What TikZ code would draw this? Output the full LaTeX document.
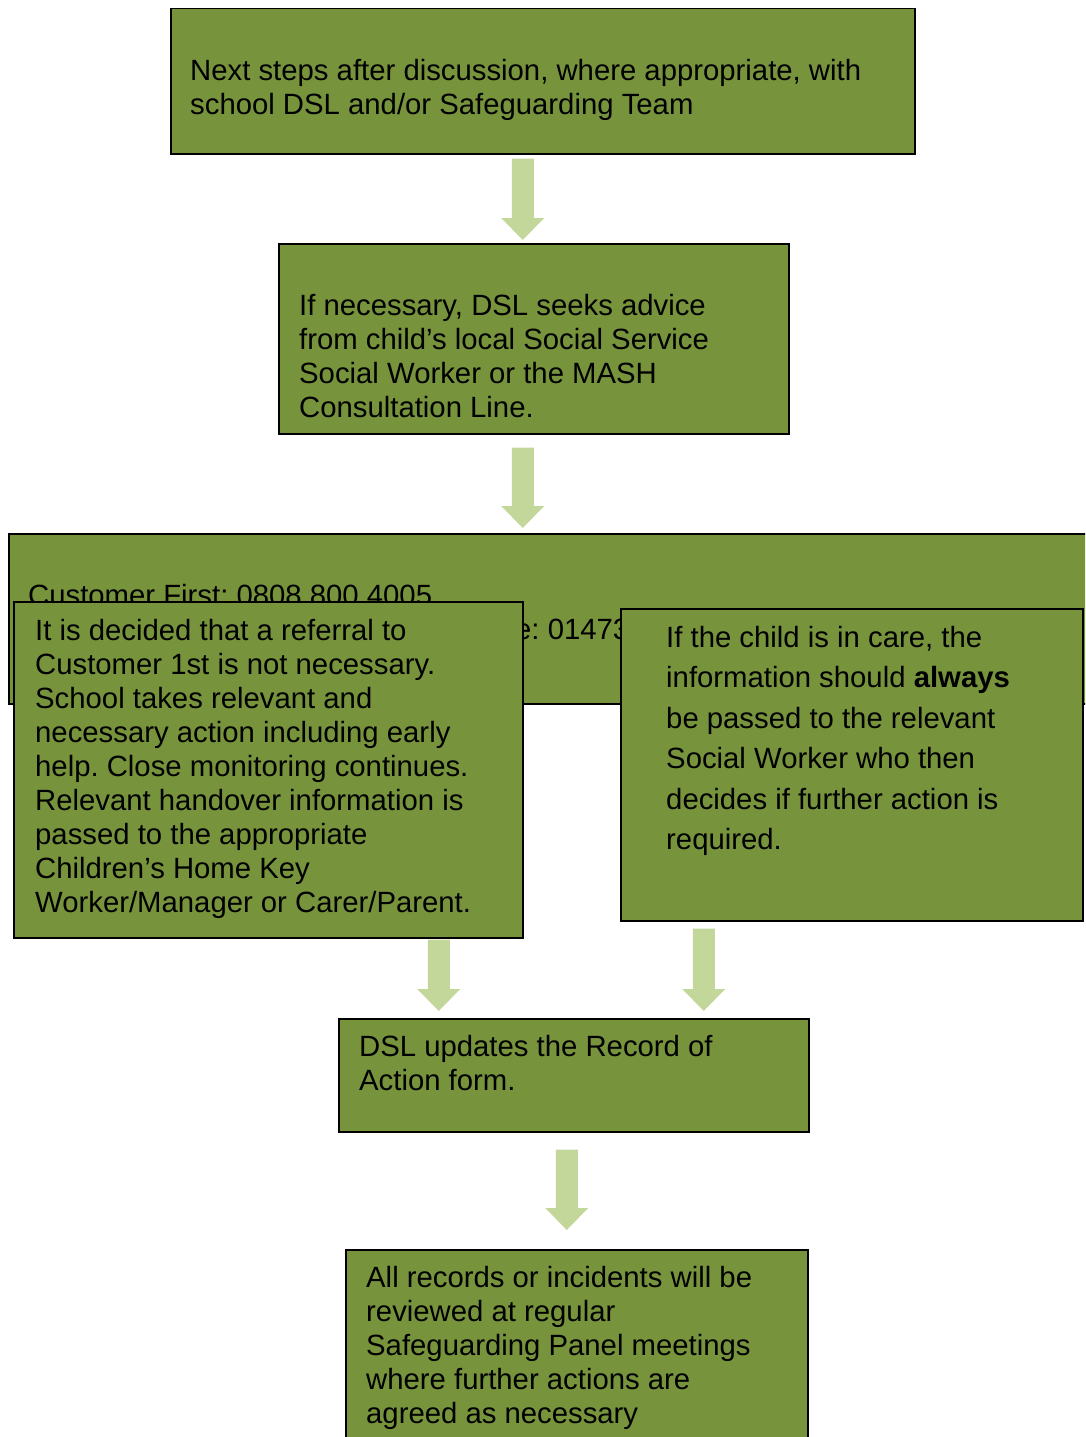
\documentclass[tikz,border=0pt]{standalone}
\usepackage{fontspec}
\setmainfont{Liberation Sans}
\usetikzlibrary{calc}
\frenchspacing
\definecolor{boxgreen}{RGB}{119,147,60}
\definecolor{arrowgreen}{RGB}{196,215,155}
\tikzset{
  stepbox/.style={draw=black, line width=1.5pt, fill=boxgreen, rectangle,
                  inner sep=0pt, anchor=north west},
  steptext/.style={anchor=north west, inner sep=0pt, align=left,
                   font=\fontsize{29.3}{34}\selectfont},
}
% block arrow, from #1 down to the tip #2
\newcommand\blockarrow[2]{%
  \fill [arrowgreen] let \p1=#1, \p2=#2 in
       (\x1-11pt,\y1) -- (\x1+11pt,\y1)
    -- (\x1+11pt,\y2+22pt) -- (\x1+21.5pt,\y2+22pt)
    -- (\x1,\y2) -- (\x1-21.5pt,\y2+22pt)
    -- (\x1-11pt,\y2+22pt) -- cycle;}
\begin{document}
\begin{tikzpicture}[x=1pt,y=-1pt]%{{{
\useasboundingbox (0,0) rectangle (1085,1437);
\clip (0,0) rectangle (1085,1437);
%
% Next steps
\node [stepbox, minimum width=744pt, minimum height=145pt] (next) at (170,8) {};
\node [steptext] (nextText) at ($(next.north west)+(20,51)$)
      {Next steps after discussion, where appropriate, with\\
       school DSL and/or Safeguarding Team};
%
% Advice
\node [stepbox, minimum width=510pt, minimum height=190pt] (advice) at (278,243) {};
\node [steptext] (adviceText) at ($(advice.north west)+(21,51)$)
      {If necessary, DSL seeks advice\\
       from child’s local Social Service\\
       Social Worker or the MASH\\
       Consultation Line.};
%
% Contacts (partly hidden)
\node [stepbox, minimum width=1100pt, minimum height=170pt] (contact) at (8,533) {};
\node [steptext] (contactText) at ($(contact.north west)+(20,51)$)
      {Customer First: 0808 800 4005};
\node [steptext] (contactMore) at (515,619) {e: 01473};
%
% No referral
\node [stepbox, minimum width=509pt, minimum height=336pt] (noref) at (13,601) {};
\node [steptext] (norefText) at ($(noref.north west)+(22,18)$)
      {It is decided that a referral to\\
       Customer 1st is not necessary.\\
       School takes relevant and\\
       necessary action including early\\
       help. Close monitoring continues.\\
       Relevant handover information is\\
       passed to the appropriate\\
       Children’s Home Key\\
       Worker/Manager or Carer/Parent.};
%
% In care
\node [stepbox, minimum width=462pt, minimum height=312pt] (incare) at (620,608) {};
\node [steptext, font=\fontsize{29.3}{40.4}\selectfont] (incareText)
      at ($(incare.north west)+(46,18)$)
      {If the child is in care, the\\
       information should \textbf{always}\\
       be passed to the relevant\\
       Social Worker who then\\
       decides if further action is\\
       required.};
%
% Record of action
\node [stepbox, minimum width=470pt, minimum height=113pt] (update) at (338,1018) {};
\node [steptext] (updateText) at ($(update.north west)+(21,17)$)
      {DSL updates the Record of\\
       Action form.};
%
% Review
\node [stepbox, minimum width=462pt, minimum height=220pt] (review) at (345,1249) {};
\node [steptext] (reviewText) at ($(review.north west)+(21,17)$)
      {All records or incidents will be\\
       reviewed at regular\\
       Safeguarding Panel meetings\\
       where further actions are\\
       agreed as necessary};
%
% Arrows
\blockarrow{($(next.south)+(-20,4)$)}{($(advice.north)+(0,-3)$)}
\blockarrow{($(advice.south)+(-11,13)$)}{($(contact.north)+(0,-5)$)}
\blockarrow{($(noref.south)+(170.5,1)$)}{($(update.north)+(0,-7)$)}
\blockarrow{($(incare.south)+(-148,7)$)}{($(update.north)+(0,-7)$)}
\blockarrow{($(update.south)+(-7,17)$)}{($(review.north)+(0,-19)$)}
%
\end{tikzpicture}
\end{document}
